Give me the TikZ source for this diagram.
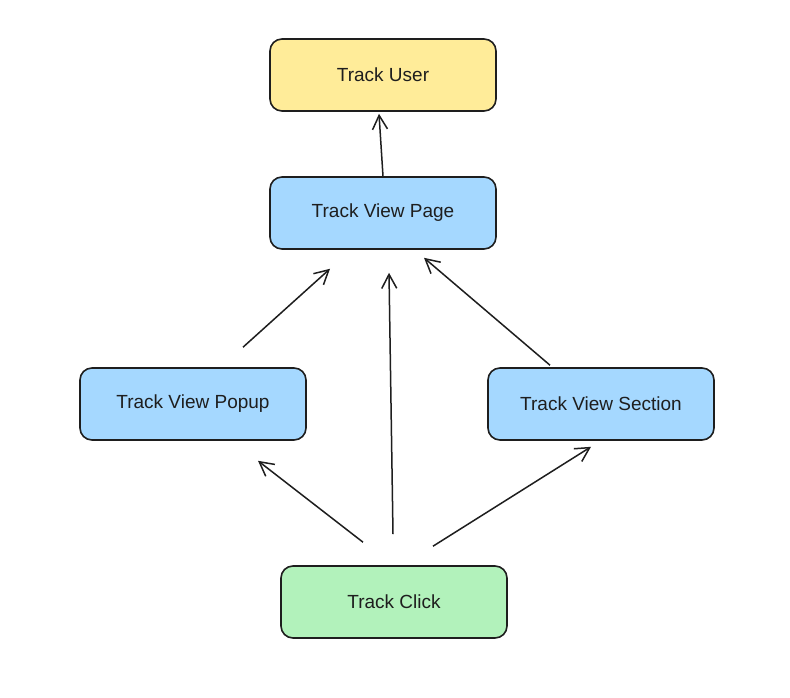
\documentclass[tikz,border=0pt]{standalone}
\usepackage{fontspec}
\setmainfont{Liberation Sans}
\usetikzlibrary{arrows.meta}
\definecolor{userfill}{HTML}{FFEC99}
\definecolor{viewfill}{HTML}{A5D8FF}
\definecolor{clickfill}{HTML}{B2F2BB}
\definecolor{ink}{HTML}{1E1E1E}
\tikzset{
  trackbox/.style={draw=ink, text=ink, line width=1.6pt, rounded corners=12pt, minimum width=226pt, minimum height=72pt, font=\fontsize{19}{22}\selectfont},
  flow/.style={draw=ink, line width=1.5pt, -{Straight Barb[length=14pt,width=15pt,line width=1.5pt]}}
}
\begin{document}
\begin{tikzpicture}[x=1pt,y=-1pt]
        \useasboundingbox[fill=white] (0,0) rectangle (790,697); %Delimitador de imagen
        \node[trackbox, fill=userfill] (user) at (383,75) {Track User}; %usuario
        \node[trackbox, fill=viewfill] (page) at (383,213) {Track View Page}; %pagina
        \node[trackbox, fill=viewfill] (popup) at (193,404) {Track View Popup}; %popup
        \node[trackbox, fill=viewfill] (section) at (601,404) {Track View Section}; %seccion
        \node[trackbox, fill=clickfill] (click) at (394,602) {Track Click}; %click
        \draw[flow] (page.north) -- ([shift={(-4,2)}]user.south); %pagina a usuario
        \draw[flow] ([shift={(50,-20)}]popup.north) -- ([shift={(-53,19)}]page.south); %popup a pagina
        \draw[flow] ([shift={(-1,-31)}]click.north) -- ([shift={(6,23)}]page.south); %click a pagina
        \draw[flow] ([shift={(-51,-2)}]section.north) -- ([shift={(41,8)}]page.south); %seccion a pagina
        \draw[flow] ([shift={(-31,-23)}]click.north) -- ([shift={(65,20)}]popup.south); %click a popup
        \draw[flow] ([shift={(39,-19)}]click.north) -- ([shift={(-10,6)}]section.south); %click a seccion
    \end{tikzpicture}
\end{document}
